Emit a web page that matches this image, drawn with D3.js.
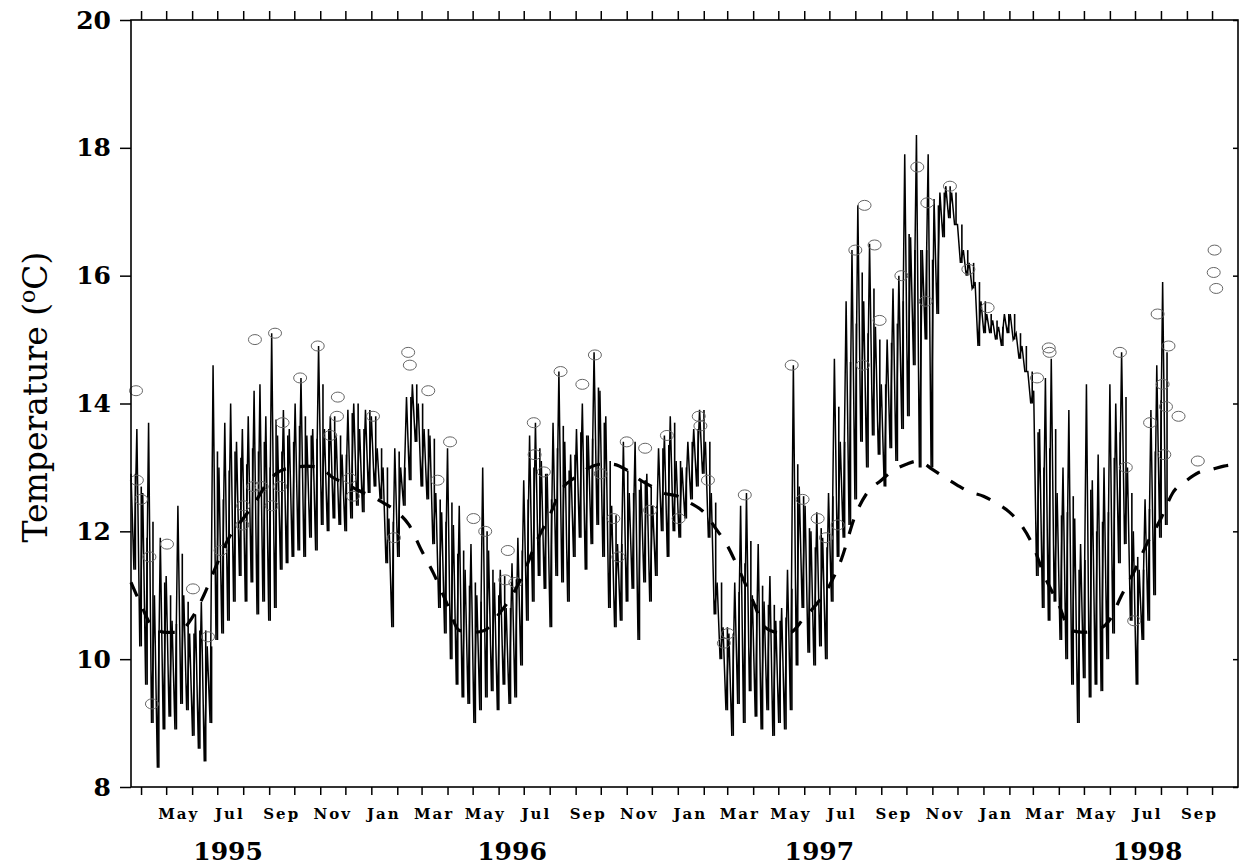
<!DOCTYPE html>
<html>
<head>
<meta charset="utf-8">
<script src="https://cdn.jsdelivr.net/npm/d3@7"></script>
<style>
  body { margin: 0; background: #fff; }
  svg { display: block; }
</style>
</head>
<body>
<div id="container"></div>
<script>
// weekly high / low of the recorded temperature, starting 20 Mar 1995
let traceStart = "1995-03-20";
let weekHigh = [
  12.9, 13.6, 12.6, 13.7, 11.0, 11.9, 11.3, 10.6, 12.4, 11.0,
  10.4, 10.7, 10.9, 10.2, 14.6, 13.0, 13.7, 14.0, 13.4, 13.6,
  13.8, 14.2, 14.3, 13.8, 15.1, 13.5, 13.9, 13.6, 14.0, 14.4,
  13.5, 13.6, 14.9, 13.6, 13.8, 13.5, 13.2, 13.9, 14.0, 13.6,
  13.9, 13.8, 13.3, 13.0, 12.2, 13.3, 13.0, 14.1, 14.3, 14.0,
  13.6, 13.5, 12.6, 12.3, 13.3, 12.1, 12.4, 11.4, 11.8, 11.0,
  13.0, 11.7, 11.2, 11.4, 10.8, 11.5, 11.9, 12.8, 13.5, 13.7,
  13.1, 12.9, 13.7, 14.5, 13.4, 13.2, 13.6, 14.0, 13.5, 14.8,
  14.2, 13.8, 12.4, 11.8, 13.4, 12.6, 13.4, 12.8, 12.9, 12.4,
  13.3, 13.5, 13.8, 13.1, 13.0, 13.4, 13.6, 13.9, 13.4, 12.6,
  11.2, 10.5, 10.4, 11.2, 12.4, 12.6, 11.0, 11.8, 10.9, 11.3,
  10.6, 10.8, 11.4, 14.6, 12.7, 12.4, 12.0, 12.3, 11.9, 12.6,
  14.7, 13.4, 15.6, 16.4, 17.1, 15.6, 16.5, 15.2, 14.3, 15.0,
  15.8, 16.0, 17.9, 16.6, 18.2, 16.4, 17.9, 17.2, 17.3, 17.4,
  17.3, 16.8, 16.4, 16.2, 15.9, 15.6, 15.4, 15.3, 15.2, 15.4,
  15.4, 15.1, 14.9, 14.5, 14.2, 13.6, 14.4, 14.7, 12.6, 13.0,
  13.9, 12.2, 11.8, 14.3, 12.8, 13.2, 13.0, 14.3, 14.0, 14.8,
  13.0, 12.0, 11.4, 12.5, 13.9, 14.6, 15.9
];
let weekLow = [
  11.4, 10.2, 9.6, 9.0, 8.3, 8.9, 9.1, 8.9, 9.3, 9.2,
  8.8, 8.6, 8.4, 9.0, 10.3, 10.4, 10.6, 10.9, 11.3, 10.9,
  11.2, 10.7, 10.9, 10.6, 10.8, 11.4, 11.5, 11.6, 11.7, 11.6,
  11.9, 11.7, 12.1, 12.0, 12.2, 12.1, 12.0, 12.2, 12.4, 12.3,
  12.6, 12.7, 12.5, 11.5, 10.5, 11.6, 12.4, 12.8, 13.4, 12.7,
  12.5, 11.8, 10.8, 10.4, 10.0, 9.6, 9.4, 9.3, 9.0, 9.2,
  9.4, 9.5, 9.2, 9.6, 9.3, 9.4, 9.9, 10.6, 10.9, 11.3,
  11.1, 10.5, 11.3, 11.2, 10.9, 11.6, 11.9, 11.4, 11.8, 12.1,
  11.6, 10.8, 10.5, 10.6, 10.9, 11.1, 10.3, 11.2, 10.9, 11.3,
  12.0, 11.6, 12.0, 11.9, 12.2, 12.5, 12.7, 12.9, 11.9, 10.7,
  10.0, 9.2, 8.8, 9.3, 9.0, 9.5, 9.1, 8.9, 9.2, 8.8,
  9.0, 8.9, 9.2, 9.9, 10.8, 10.1, 9.9, 10.2, 10.0, 10.9,
  11.6, 11.9, 12.1, 12.5, 13.4, 13.0, 13.5, 13.2, 12.7, 13.3,
  13.1, 13.6, 13.8, 14.6, 13.0, 15.0, 13.0, 15.4, 16.6, 16.9,
  16.8, 16.2, 16.0, 15.8, 14.9, 15.1, 15.1, 15.0, 14.9, 15.1,
  15.0, 14.7, 14.5, 14.0, 11.3, 10.8, 10.6, 10.9, 10.3, 10.0,
  9.6, 9.0, 9.7, 9.4, 9.6, 9.5, 10.0, 10.4, 11.5, 11.8,
  10.6, 9.6, 10.3, 10.6, 11.0, 11.9, 12.1
];

// long-term mean (dashed)
let climDates = [
  "1995-03-20","1995-04-01","1995-04-15","1995-05-01","1995-05-15","1995-06-01","1995-06-15",
  "1995-07-01","1995-07-15","1995-08-01","1995-08-15","1995-09-01","1995-09-15","1995-10-01",
  "1995-10-15","1995-11-01","1995-11-15","1995-12-01","1995-12-15","1996-01-01","1996-01-15",
  "1996-02-01","1996-02-15","1996-03-01","1996-03-15","1996-04-01","1996-04-15","1996-05-01",
  "1996-05-15","1996-06-01","1996-06-15","1996-07-01","1996-07-15","1996-08-01","1996-08-15",
  "1996-09-01","1996-09-15","1996-10-01","1996-10-15","1996-11-01","1996-11-15","1996-12-01",
  "1996-12-15","1997-01-01","1997-01-15","1997-02-01","1997-02-15","1997-03-01","1997-03-15",
  "1997-04-01","1997-04-15","1997-05-01","1997-05-15","1997-06-01","1997-06-15","1997-07-01",
  "1997-07-15","1997-08-01","1997-08-15","1997-09-01","1997-09-15","1997-10-01","1997-10-15",
  "1997-11-01","1997-11-15","1997-12-01","1997-12-15","1998-01-01","1998-01-15","1998-02-01",
  "1998-02-15","1998-03-01","1998-03-15","1998-04-01","1998-04-15","1998-05-01","1998-05-15",
  "1998-06-01","1998-06-15","1998-07-01","1998-07-15","1998-08-01","1998-08-15","1998-09-01",
  "1998-09-15","1998-10-01","1998-10-15","1998-11-01"
];
let climTemp = [
  11.2, 10.85, 10.5, 10.42, 10.42, 10.65, 11.0,
  11.5, 11.9, 12.2, 12.45, 12.8, 12.95, 13.0,
  13.02, 13.0, 12.85, 12.75, 12.65, 12.55, 12.45,
  12.3, 12.1, 11.7, 11.35, 10.85, 10.45, 10.42,
  10.45, 10.7, 10.95, 11.35, 11.8, 12.25, 12.65,
  12.85, 12.98, 13.05, 13.05, 12.96, 12.82, 12.7,
  12.6, 12.55, 12.45, 12.3, 12.05, 11.78, 11.4,
  10.9, 10.5, 10.42, 10.42, 10.65, 10.85, 11.15,
  11.55, 12.25, 12.6, 12.8, 12.95, 13.05, 13.1,
  12.97, 12.85, 12.72, 12.62, 12.55, 12.45, 12.3,
  12.1, 11.78, 11.3, 10.85, 10.45, 10.42, 10.45,
  10.62, 11.0, 11.4, 11.8, 12.2, 12.6, 12.8,
  12.92, 12.97, 13.02, 13.05
];

// single observations (circles)
let obsDates = [
  "1995-03-26","1995-03-27","1995-04-01","1995-04-11","1995-04-14","1995-05-02","1995-06-02",
  "1995-06-20","1995-07-05","1995-07-31","1995-08-01","1995-08-13","1995-08-15","1995-08-23",
  "1995-09-04","1995-09-08","1995-09-14","1995-09-17","1995-10-08","1995-10-29","1995-11-13",
  "1995-11-21","1995-11-22","1995-12-06","1995-12-10","1996-01-03","1996-01-28","1996-02-14",
  "1996-02-16","1996-03-09","1996-03-20","1996-04-04","1996-05-02","1996-05-16","1996-06-09",
  "1996-06-12","1996-06-21","1996-07-13","1996-07-14","1996-07-25","1996-08-14","1996-09-09",
  "1996-09-24","1996-10-01","1996-10-16","1996-10-22","1996-11-01","1996-11-23","1996-11-29",
  "1996-12-19","1997-01-02","1997-01-26","1997-01-28","1997-02-06","1997-02-25","1997-03-02",
  "1997-03-22","1997-05-17","1997-05-30","1997-06-17","1997-06-27","1997-07-11","1997-08-01",
  "1997-08-10","1997-08-12","1997-08-24","1997-08-30","1997-09-25","1997-10-14","1997-10-24",
  "1997-10-26","1997-11-22","1997-12-14","1998-01-06","1998-03-06","1998-03-20","1998-03-21",
  "1998-06-13","1998-06-20","1998-06-30","1998-07-19","1998-07-28","1998-08-03","1998-08-05",
  "1998-08-07","1998-08-10","1998-08-22","1998-09-14","1998-10-04","1998-10-03","1998-10-06"
];
let obsTemp = [
  14.2, 12.8, 12.5, 11.6, 9.3, 11.8, 11.1,
  10.35, 11.7, 12.1, 12.4, 12.7, 15.0, 12.7,
  12.4, 15.1, 12.7, 13.7, 14.4, 14.9, 13.5,
  13.8, 14.1, 12.83, 12.55, 13.8, 11.9, 14.8,
  14.6, 14.2, 12.8, 13.4, 12.2, 12.0, 11.24,
  11.7, 11.2, 13.7, 13.2, 12.93, 14.5, 14.3,
  14.76, 12.9, 12.2, 11.6, 13.4, 13.3, 12.33,
  13.5, 12.2, 13.8, 13.65, 12.8, 10.25, 10.4,
  12.57, 14.6, 12.5, 12.2, 11.9, 12.1, 16.4,
  14.6, 17.1, 16.48, 15.3, 16.0, 17.7, 15.6,
  17.14, 17.4, 16.1, 15.5, 14.4, 14.87, 14.8,
  14.8, 13.0, 10.6, 13.7, 15.4, 14.3, 13.2,
  13.95, 14.9, 13.8, 13.1, 16.4, 16.05, 15.8
];

let yTicks = [8, 10, 12, 14, 16, 18, 20];
let monthNames = ["Jan","Feb","Mar","Apr","May","Jun","Jul","Aug","Sep","Oct","Nov","Dec"];
let yearLabels = ["1995", "1996", "1997", "1998"];
let yearLabelDates = ["1995-07-14", "1996-06-17", "1997-06-19", "1998-07-16"];

let w = 1240;
let h = 868;
let margin = {left: 131, right: 2, top: 20, bottom: 81};
let parse = d3.timeParse("%Y-%m-%d");
let serif = "'DejaVu Serif', serif";

let svg = d3.select("#container")
  .append("svg")
  .attr("width", w)
  .attr("height", h);

let x = d3.scaleTime()
  .domain([parse("1995-03-20"), parse("1998-11-01")])
  .range([margin.left, w - margin.right]);

let y = d3.scaleLinear()
  .domain([8, 20])
  .range([h - margin.bottom, margin.top]);

let x0 = margin.left, x1 = w - margin.right;
let y0 = h - margin.bottom, y1 = margin.top;

// raw record: each week drawn as high then low
let start = parse(traceStart);
let tracePts = [];
weekHigh.forEach(function(v, i) {
  tracePts.push({d: d3.timeHour.offset(start, i * 168), t: v});
  tracePts.push({d: d3.timeHour.offset(start, i * 168 + 84), t: weekLow[i]});
});

let line = d3.line()
  .x(function(d) { return x(d.d); })
  .y(function(d) { return y(d.t); });

// weekly range bars give the dense look of the hourly record
svg.selectAll(".range")
  .data(weekHigh)
  .enter()
  .append("line")
  .attr("class", "range")
  .attr("x1", function(v, i) { return x(d3.timeHour.offset(start, i * 168 + 126)); })
  .attr("x2", function(v, i) { return x(d3.timeHour.offset(start, i * 168 + 126)); })
  .attr("y1", function(v, i) { return y(Math.min(v, (v + weekLow[i]) / 2 + 0.8)); })
  .attr("y2", function(v, i) { return y(weekLow[i]); })
  .attr("stroke", "#000")
  .attr("stroke-width", 1.6);

svg.append("path")
  .datum(tracePts)
  .attr("fill", "none")
  .attr("stroke", "#000")
  .attr("stroke-width", 1.5)
  .attr("stroke-linejoin", "miter")
  .attr("d", line);

// observations
svg.selectAll(".obs")
  .data(obsDates.map(function(d, i) { return {d: parse(d), t: obsTemp[i]}; }))
  .enter()
  .append("ellipse")
  .attr("class", "obs")
  .attr("cx", function(d) { return x(d.d); })
  .attr("cy", function(d) { return y(d.t); })
  .attr("rx", 6.5)
  .attr("ry", 5)
  .attr("fill", "none")
  .attr("stroke", "#666")
  .attr("stroke-width", 1);

// mean seasonal cycle
let clim = climDates.map(function(d, i) { return {d: parse(d), t: climTemp[i]}; });
svg.append("path")
  .datum(clim)
  .attr("fill", "none")
  .attr("stroke", "#000")
  .attr("stroke-width", 3.2)
  .attr("stroke-dasharray", "15,14")
  .attr("d", line.curve(d3.curveMonotoneX));

// frame
svg.append("rect")
  .attr("x", x0).attr("y", y1)
  .attr("width", x1 - x0).attr("height", y0 - y1)
  .attr("fill", "none")
  .attr("stroke", "#000")
  .attr("stroke-width", 1.6);

let months = d3.timeMonth.range(parse("1995-04-01"), parse("1998-10-02"));

let axBottom = svg.append("g")
  .attr("transform", "translate(0," + y0 + ")")
  .call(d3.axisBottom(x).tickValues(months).tickSize(8).tickFormat(""));
let axTop = svg.append("g")
  .attr("transform", "translate(0," + y1 + ")")
  .call(d3.axisTop(x).tickValues(months).tickSize(9).tickFormat(""));
let axLeft = svg.append("g")
  .attr("transform", "translate(" + x0 + ",0)")
  .call(d3.axisLeft(y).tickValues(yTicks).tickSize(11).tickPadding(9).tickFormat(d3.format("d")));
// right side inner ticks
let axRight = svg.append("g")
  .attr("transform", "translate(" + x1 + ",0)")
  .call(d3.axisLeft(y).tickValues(yTicks).tickSize(5).tickFormat(""));

[axBottom, axTop, axLeft, axRight].forEach(function(g) {
  g.select(".domain").remove();
  g.selectAll(".tick line").attr("stroke", "#000").attr("stroke-width", 1.5);
});

axLeft.selectAll(".tick text")
  .attr("fill", "#000")
  .style("font-family", serif)
  .style("font-weight", "bold")
  .style("font-size", "25px");

// month labels every other month, centred in the month
let labelMonths = months.filter(function(m) { return m.getMonth() % 2 === 0; });
svg.selectAll(".mlab")
  .data(labelMonths)
  .enter()
  .append("text")
  .attr("class", "mlab")
  .attr("x", function(m) { return x(d3.timeDay.offset(m, 15)); })
  .attr("y", 819)
  .attr("text-anchor", "middle")
  .style("font-family", serif)
  .style("font-weight", "bold")
  .style("font-size", "15px")
  .style("letter-spacing", "2px")
  .text(function(m) { return monthNames[m.getMonth()]; });

svg.selectAll(".ylab")
  .data(yearLabels)
  .enter()
  .append("text")
  .attr("class", "ylab")
  .attr("x", function(d, i) { return x(parse(yearLabelDates[i])); })
  .attr("y", 860)
  .attr("text-anchor", "middle")
  .style("font-family", serif)
  .style("font-weight", "bold")
  .style("font-size", "25px")
  .text(function(d) { return d; });

// y title
let title = svg.append("text")
  .attr("transform", "translate(47,397) rotate(-90)")
  .attr("text-anchor", "middle")
  .style("font-family", serif)
  .style("font-size", "33px");
title.append("tspan").text("Temperature (");
title.append("tspan").attr("baseline-shift", "super").style("font-size", "22px").text("o");
title.append("tspan").text("C)");
</script>
</body>
</html>
